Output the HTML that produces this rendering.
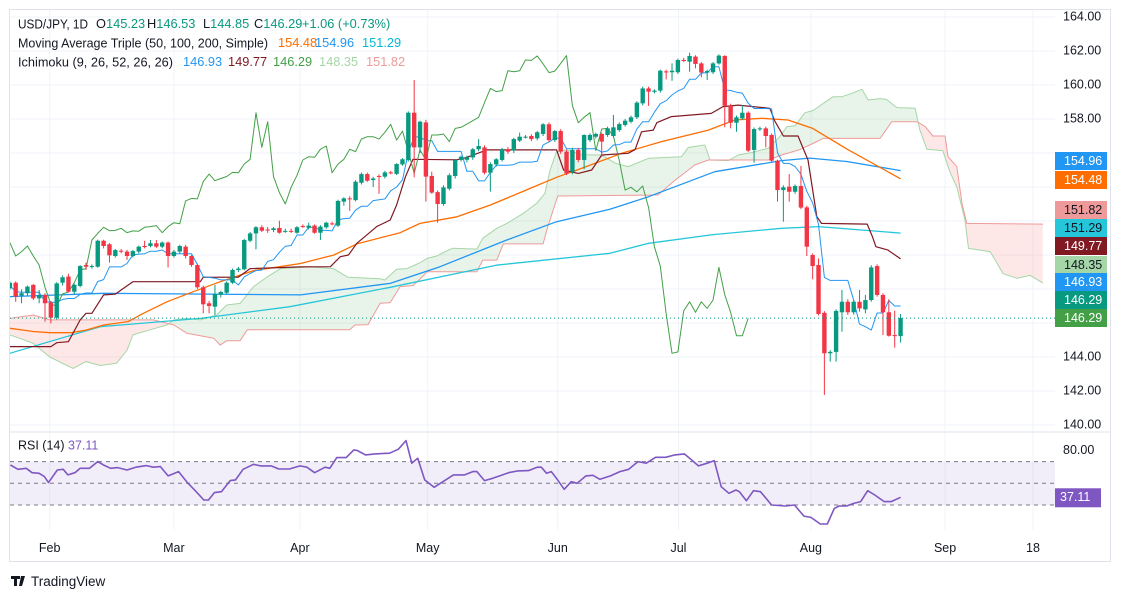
<!DOCTYPE html>
<html><head><meta charset="utf-8">
<style>
html,body{margin:0;padding:0;background:#fff;}
svg{display:block;font-family:"Liberation Sans",Arial,sans-serif;}
</style></head>
<body>
<svg id="chart" width="1121" height="599" viewBox="0 0 1121 599" xmlns="http://www.w3.org/2000/svg">
<defs>
<clipPath id="mainClip"><rect x="10" y="10" width="1045" height="421"/></clipPath>
<clipPath id="rsiClip"><rect x="10" y="433" width="1045" height="96"/></clipPath>
</defs>
<rect x="0" y="0" width="1121" height="599" fill="#fff"/>
<g id="grid"></g>
<g id="main" clip-path="url(#mainClip)"></g>
<g id="rsi"></g>
<g id="axis"></g>
<line x1="9.5" y1="432" x2="1110" y2="432" stroke="#e0e3eb"/>
<rect x="9.5" y="9.5" width="1101" height="552" fill="none" stroke="#e0e3eb"/>

<g font-size="12.8" dominant-baseline="middle">
<text x="18" y="25" fill="#131722" textLength="70" lengthAdjust="spacingAndGlyphs">USD/JPY, 1D</text>
<text y="25"><tspan x="96" fill="#131722">O</tspan><tspan fill="#089981">145.23</tspan><tspan x="147" fill="#131722">H</tspan><tspan fill="#089981">146.53</tspan><tspan x="203" fill="#131722">L</tspan><tspan fill="#089981">144.85</tspan><tspan x="254" fill="#131722">C</tspan><tspan fill="#089981">146.29</tspan><tspan x="302" fill="#089981">+1.06 (+0.73%)</tspan></text>
<text x="18" y="44" fill="#131722" textLength="250" lengthAdjust="spacingAndGlyphs">Moving Average Triple (50, 100, 200, Simple)</text>
<text y="44"><tspan x="278" fill="#FF6D00">154.48</tspan><tspan x="315" fill="#2196F3">154.96</tspan><tspan x="362" fill="#00BCD4">151.29</tspan></text>
<text x="18" y="63" fill="#131722" textLength="155" lengthAdjust="spacingAndGlyphs">Ichimoku (9, 26, 52, 26, 26)</text>
<text y="63"><tspan x="183" fill="#2196F3">146.93</tspan><tspan x="228" fill="#801922">149.77</tspan><tspan x="273" fill="#43A047">146.29</tspan><tspan x="319" fill="#A5D6A7">148.35</tspan><tspan x="366" fill="#EF9A9A">151.82</tspan></text>
<text x="18" y="446" fill="#131722" font-size="12.5">RSI (14)</text>
<text x="68" y="446" fill="#7E57C2" font-size="12.5">37.11</text>
</g>

<g id="xaxis" font-size="12.5" fill="#131722" text-anchor="middle"></g>

<g>
<path d="M11 576 h9 v3 h-3 v7 h-3 v-7 h-3z M21 576 h4 l-3 10 h-3z" fill="#131722"/>
<text x="31" y="586" font-size="13.5" fill="#131722">TradingView</text>
</g>
</svg>

<script>
// ---------- data ----------
const firstIdx = -6;
const opens=[148.04,148.37,147.61,147.75,148.24,147.45,147.65,147.2,146.31,148.37,148.73,147.84,148.18,149.41,149.3,149.31,150.84,150.63,149.94,150.25,150.2,149.94,150.2,150.53,150.53,150.69,150.49,150.73,149.94,150.2,150.49,149.94,149.41,148.1,147.16,146.96,147.67,147.78,148.37,149.12,149.16,150.84,151.27,151.63,151.5,151.47,151.59,151.4,151.42,151.31,151.7,151.6,151.73,151.31,151.63,151.86,151.73,153.14,153.33,153.23,154.25,154.76,154.41,154.65,154.61,154.86,154.77,155.33,155.59,158.37,156.33,157.8,154.65,153.7,153.0,153.9,154.65,155.59,155.6,155.74,156.22,156.33,154.84,155.33,155.59,156.22,156.14,156.73,156.95,157.0,156.86,157.12,157.69,156.76,157.29,156.08,154.9,156.18,155.59,156.76,156.96,157.12,157.06,157.0,157.35,157.65,157.84,158.1,158.92,159.8,159.6,159.67,160.8,160.75,160.75,161.47,161.37,161.67,161.27,160.73,160.75,161.27,161.71,158.78,157.78,158.04,158.37,156.18,157.4,157.45,157.06,155.55,153.82,154.02,153.72,154.06,152.8,150.0,149.41,146.6,144.22,144.3,146.63,147.25,146.63,147.25,146.8,147.35,149.35,147.65,146.63,145.29,145.23];
const highs=[148.45,148.45,147.98,148.2,148.3,147.94,147.75,147.3,148.4,148.8,148.9,148.3,149.4,149.55,149.45,150.9,150.9,150.7,150.35,150.35,150.3,150.3,150.55,150.84,150.88,150.88,150.8,150.8,150.3,150.6,150.6,150.0,149.5,148.2,147.3,148.24,147.9,148.45,149.2,149.3,150.95,151.35,151.7,151.75,151.65,151.65,152.02,151.55,151.55,151.7,151.8,151.9,151.8,151.75,151.95,151.95,153.25,153.4,153.45,154.4,154.85,154.85,154.6,154.75,154.95,154.95,155.4,155.7,158.45,160.29,157.9,157.95,154.9,153.8,154.1,154.8,155.65,155.85,155.85,156.3,156.82,156.45,155.45,155.7,156.3,156.35,156.9,157.2,157.05,157.1,157.3,157.75,157.8,157.35,157.4,156.2,156.3,156.3,157.1,157.15,157.2,157.2,157.55,158.24,157.8,158.0,158.2,159.05,159.9,159.9,159.75,160.9,160.9,161.27,161.55,161.6,161.9,161.75,161.35,160.9,161.35,161.8,161.75,158.9,158.2,158.82,158.45,157.5,157.55,157.55,157.15,155.6,154.1,154.76,154.15,155.24,152.9,150.1,149.8,146.7,144.4,146.8,147.94,147.4,147.35,147.94,147.65,149.4,149.45,147.75,147.4,146.73,146.53];
const lows=[147.95,147.25,147.16,147.6,147.35,147.16,146.08,145.98,146.2,148.2,147.8,147.7,148.1,149.12,149.2,149.25,150.39,149.55,149.85,150.1,149.71,149.85,150.1,150.39,150.45,150.4,150.4,149.27,149.85,150.1,149.8,149.31,148.0,146.57,146.57,146.47,147.5,147.7,148.3,149.0,149.1,150.75,150.33,151.35,151.3,151.35,151.25,151.3,151.3,151.25,151.6,151.5,151.25,150.88,151.55,151.75,151.65,152.9,152.6,153.15,154.15,154.3,154.0,153.6,154.5,154.75,154.7,155.25,155.5,154.57,156.0,153.14,153.6,151.9,152.9,153.8,154.5,155.5,155.45,155.6,156.1,154.75,153.73,155.2,155.5,155.95,156.0,156.65,156.85,156.7,156.75,157.0,156.65,156.65,155.95,154.7,154.75,155.45,155.04,156.65,156.85,155.78,156.95,156.9,157.25,157.55,157.75,158.0,158.8,158.77,159.5,159.55,160.33,160.25,160.65,161.35,160.78,160.98,160.45,160.29,160.65,161.2,157.51,157.45,157.25,157.95,156.05,155.43,157.3,156.33,155.45,153.14,151.96,153.14,153.6,152.7,149.94,148.57,146.45,141.77,143.73,143.73,145.49,146.47,146.5,146.67,146.57,147.25,147.55,145.29,145.2,144.55,144.85];
const closes=[148.37,147.55,147.75,148.14,147.45,147.65,147.16,146.31,148.33,148.69,147.84,148.25,149.35,149.31,149.35,150.84,150.53,149.98,150.29,150.2,149.94,150.23,150.49,150.49,150.69,150.49,150.73,149.94,150.2,150.53,149.94,149.41,148.1,147.1,147.0,147.71,147.82,148.37,149.12,149.2,150.88,151.27,151.63,151.43,151.45,151.57,151.31,151.42,151.4,151.63,151.67,151.73,151.31,151.67,151.9,151.84,153.18,153.33,153.3,154.31,154.76,154.37,154.5,154.62,154.86,154.84,155.35,155.63,158.37,156.33,157.84,154.61,153.67,153.0,153.98,154.69,155.59,155.78,155.75,156.22,156.41,154.84,155.35,155.63,156.22,156.08,156.82,156.96,156.96,156.82,157.22,157.69,156.76,157.29,156.08,154.8,156.18,155.59,157.06,157.06,157.12,156.67,157.45,157.51,157.7,157.9,158.1,158.96,159.8,159.61,159.67,160.84,160.78,160.84,161.47,161.45,161.71,161.24,160.73,160.82,161.27,161.73,158.78,157.78,158.1,158.37,156.14,157.41,157.45,157.0,155.55,153.82,153.98,153.72,154.06,152.79,150.49,149.35,146.53,144.22,144.3,146.71,147.25,146.63,147.25,146.86,147.35,149.27,147.65,146.63,145.25,145.25,146.29];

const sma50Idx=[-6,-2,0.8,4.5,7,10,14.2,16.8,20.8,25.3,29.9,35.6,43.6,49.3,53.2,60.6,64,70.3,76,82.8,87.3,90.8,98.4,105.2,113.2,117.7,122.3,126.8,131,137,146];
const sma50Val=[145.69,145.5,145.43,145.43,145.58,145.88,146.08,146.57,147.25,147.84,148.43,149.08,149.5,150.0,150.65,151.31,151.86,152.25,152.94,153.92,154.57,155.0,155.98,156.67,157.35,157.94,158.04,157.94,157.45,156.2,154.48];
const sma100Idx=[-6,10,43.6,58.9,67.4,78.8,87.3,96.4,103,114.3,125.7,130.5,136.8,145.4,146];
const sma100Val=[147.55,147.75,147.65,148.33,149.31,150.88,151.96,152.69,153.43,154.9,155.55,155.7,155.5,155.0,154.96];
const sma200Idx=[-6,9.4,26.5,41.8,58.9,77,96.4,103,114,125.7,132,146];
const sma200Val=[144.22,145.78,146.27,146.96,148.1,149.4,150.1,150.69,151.2,151.57,151.67,151.29];
const kijunIdx=[-6,1,2,4,6,7,8,10,12,15,26.5,27,33,35,43.6,48.7,50.4,51.8,53.2,55,56.6,58.9,60,61.5,62.8,70.3,72,75.4,87.3,88.5,91,93.3,95,99.5,100.7,101.8,103.8,104.4,106.9,113.7,115.7,118.3,123.7,124.5,126,128.5,130.2,131,131.7,132.5,140.3,141.2,141.8,143.8,146];
const kijunVal=[144.61,144.61,144.84,144.9,146.18,146.57,146.57,147.65,147.7,148.43,148.43,148.69,148.7,149.2,149.3,149.31,149.9,150.0,150.69,151.2,151.67,152.06,152.94,154.6,155.63,155.6,155.75,156.18,156.18,155.0,154.8,155.0,155.88,155.98,156.2,157.25,157.35,157.78,158.14,158.33,158.73,158.82,158.63,157.9,157.0,157.0,155.59,153.82,152.26,151.86,151.82,151.08,150.49,150.3,149.77];
const spanAIdx=[-6,-4.3,-2,0.8,4.8,7,9.4,12.2,14,15,17.9,20.8,22,24.2,26.5,29.3,31,33.3,35.6,38,40.2,45.2,49.2,51.7,57.2,58,60,61.8,63.7,65.2,66.9,68.3,69.6,73.7,74.7,77.1,78.8,81.6,83.9,85.3,86.2,87.3,89,91.6,95,97.3,99.5,103,108.6,109.8,112.6,113.5,116.6,118.3,120,123.4,125.4,126.6,128,129.7,131.1,132.8,134.5,136,137.7,139.4,140.5,142.5,143.6,145.4,148.5,149.3,150.5,153.2,154.4,155.6,157,157.6,161.3,163.5,165.9,168.1,170.3];
const spanAVal=[145.3,145.1,144.8,144.0,143.33,143.73,143.5,143.63,144.4,145.3,145.6,145.88,146.18,146.27,146.18,146.47,147.06,147.15,148.14,148.73,149.2,149.31,149.2,148.69,148.6,148.53,149.16,149.2,149.5,149.8,149.95,150.2,150.4,150.35,150.98,151.57,151.86,152.45,153.04,153.63,155.0,156.08,156.18,155.9,155.88,155.4,155.2,155.69,155.78,156.33,156.47,155.59,155.55,155.88,155.98,156.27,156.96,157.55,157.6,158.37,158.5,158.92,159.31,159.31,159.51,159.75,159.12,159.2,159.15,158.67,158.63,157.35,156.22,156.14,154.9,154.0,152.06,150.39,150.2,148.9,148.63,148.8,148.35];
const spanBIdx=[-6,-2,0.8,18.5,22,24.2,28.8,29.9,31,33.3,34.5,52,52.9,55.1,57.2,58.9,60.6,62.8,64.5,65.2,73.7,74.7,77.1,78.2,85,85.8,87.5,104.6,107.5,109.8,110.9,113.2,123.4,125.7,128.8,130.5,132.8,142.5,144.5,148.8,150.2,151.5,153.6,154.1,155.6,156.5,157.3,170.3];
const spanBVal=[146.27,146.47,146.18,146.18,145.88,145.4,145.1,144.7,144.96,144.96,145.6,145.6,145.88,145.9,147.16,147.2,148.14,148.2,148.76,149.02,149.02,149.7,149.7,150.65,150.65,151.67,153.47,153.53,154.4,155.0,155.3,155.59,155.59,155.88,156.2,156.47,156.86,156.86,157.84,157.84,157.55,157.0,157.0,155.78,155.2,153.0,151.86,151.82];
const rsiIdx=[-5.9,-4.6,-3.2,-2.2,-1.0,-0.1,0.6,2.1,3.1,3.9,5.1,6.0,7.6,9.0,10.0,11.2,12.4,14.0,15.5,17.3,18.5,19.7,21.0,22.8,24.3,25.8,27.1,27.9,28.9,30.1,31.6,32.5,33.8,35.6,36.8,38.6,39.9,41.7,43.5,44.7,46.0,47.8,48.6,49.8,51.4,52.7,53.3,54.7,56.3,58.8,60.3,61.6,62.6,63.6,64.8,66.4,67.9,69.7,71.6,73.0,73.7,75.0,76.4,77.6,79.1,80.7,82.5,84.0,84.7,85.6,86.4,87.4,88.6,89.8,90.8,92.3,93.5,94.7,96.5,98.1,99.6,101.2,102.6,104.2,105.9,107.5,109.1,110.0,111.5,113.0,114.2,115.4,116.7,117.9,118.5,119.7,120.9,122.1,124.0,126.4,127.9,129.5,130.7,132.3,133.5,134.7,135.5,136.8,138.0,139.2,140.4,141.6,143.2,144.4,146];
const rsiVal=[66.9,62.9,63.8,59.8,59.2,56.2,50.6,62.3,62.9,57.7,59.8,63.8,63.8,70.0,66.9,63.8,64.5,62.3,64.8,66.3,64.8,65.4,56.8,60.8,50.6,42.3,34.6,34.6,41.4,42.3,52.5,53.1,62.9,67.5,66.0,66.0,63.2,63.2,66.0,64.8,59.8,64.8,63.8,73.7,73.7,80.8,80.2,76.2,77.1,77.7,81.4,89.4,68.5,73.1,53.1,46.3,51.5,57.7,57.7,60.8,60.8,52.5,54.6,56.8,59.8,61.4,61.7,64.8,64.8,59.2,60.8,53.7,44.5,51.5,50.0,56.8,57.4,53.7,56.8,60.8,62.9,70.0,68.5,74.0,74.0,76.2,77.1,73.1,66.0,68.5,70.9,46.9,40.8,43.8,42.3,34.0,43.2,42.3,30.0,29.1,30.0,19.8,18.6,12.5,12.5,26.9,29.1,29.1,31.5,33.1,43.2,39.2,33.1,33.1,37.11];
const priceTicks=["164.00","162.00","160.00","158.00","144.00","142.00","140.00"];
const monthLabels=["Feb","Mar","Apr","May","Jun","Jul","Aug","Sep","18"];
const monthIdx=[0.8,22,43.5,65.3,87.5,108.1,130.7,153.6,168.6];
const tagValues=["154.96","154.48","151.82","151.29","149.77","148.35","146.93","146.29","146.29"];

// ---------- scales ----------
const NS="http://www.w3.org/2000/svg";
function X(i){return 45+i*5.86;}
function Y(p){return 17+(164-p)*17;}
function RY(v){return 483.3-(v-50)*1.085;}
function mk(tag,attrs,parent){const e=document.createElementNS(NS,tag);for(const k in attrs)e.setAttribute(k,attrs[k]);parent.appendChild(e);return e;}
function lerp(ix,vals,t){if(t<=ix[0])return vals[0];const n=ix.length;if(t>=ix[n-1])return vals[n-1];for(let k=1;k<n;k++){if(t<=ix[k]){const f=(t-ix[k-1])/(ix[k]-ix[k-1]);return vals[k-1]+f*(vals[k]-vals[k-1]);}}return vals[n-1];}
function pathOf(ix,vals,ys){return ix.map((t,k)=>(k?"L":"M")+X(t).toFixed(1)+" "+ys(vals[k]).toFixed(1)).join(" ");}

const grid=document.getElementById('grid'), main=document.getElementById('main'), rsiG=document.getElementById('rsi'), axis=document.getElementById('axis'), xaxis=document.getElementById('xaxis');

for(let p=140;p<=164;p+=2){
  const l=mk('line',{x1:10,x2:1055,y1:Y(p),y2:Y(p),stroke:'#f0f3fa','stroke-width':1},grid);
  
  
}
monthIdx.forEach((t,k)=>{
  const l=mk('line',{x1:X(t),x2:X(t),y1:10,y2:530,stroke:'#f0f3fa','stroke-width':1},grid);
  
  
  const tx=mk('text',{x:X(t),y:552},xaxis);
  tx.textContent=monthLabels[k];
  
  
});

(function(){
  const start=-6,end=170.3,step=0.25;let run=[],sign=0;
  function flush(){
    if(run.length<2)return;
    const top=run.map(q=>X(q[0]).toFixed(1)+","+Y(q[1]).toFixed(1));
    const bot=run.slice().reverse().map(q=>X(q[0]).toFixed(1)+","+Y(q[2]).toFixed(1));
    const pg=mk('polygon',{points:top.concat(bot).join(" "),fill:sign>0?'rgba(67,160,71,0.12)':'rgba(244,67,54,0.12)'},main);
    
    
  }
  for(let t=start;t<=end+1e-6;t+=step){
    const a=lerp(spanAIdx,spanAVal,t),b=lerp(spanBIdx,spanBVal,t);const s=a>=b?1:-1;
    if(sign!==0&&s!==sign){run.push([t,a,b]);flush();run=[[t,a,b]];}else run.push([t,a,b]);
    sign=s;
  }
  flush();
})();

function line(ix,vals,color,w,name){
  const p=mk('path',{d:pathOf(ix,vals,Y),fill:'none',stroke:color,'stroke-width':w,'stroke-linejoin':'round'},main);
  
  
}
line(spanAIdx,spanAVal,'#A5D6A7',1,'senkou-span-a');
line(spanBIdx,spanBVal,'#EF9A9A',1,'senkou-span-b');
line(sma200Idx,sma200Val,'#26C6DA',1.3,'sma-200');
line(sma100Idx,sma100Val,'#2196F3',1.3,'sma-100');
line(sma50Idx,sma50Val,'#FF6D00',1.3,'sma-50');
line(kijunIdx,kijunVal,'#801922',1.2,'kijun-sen');

const tIx=[],tV=[];
for(let k=0;k<closes.length;k++){let hi=-1e9,lo=1e9;for(let j=Math.max(0,k-8);j<=k;j++){hi=Math.max(hi,highs[j]);lo=Math.min(lo,lows[j]);}tIx.push(k+firstIdx);tV.push((hi+lo)/2);}
line(tIx,tV,'#2196F3',1,'tenkan-sen');
line(closes.map((c,k)=>k+firstIdx-26),closes,'#43A047',1,'chikou-span');

for(let k=0;k<closes.length;k++){
  const t=k+firstIdx,o=opens[k],c=closes[k],up=c>=o,col=up?'#089981':'#F23645',cx=X(t);
  const w=mk('line',{x1:cx,x2:cx,y1:Y(highs[k]),y2:Y(lows[k]),stroke:col,'stroke-width':1},main);
  
  
  const yt=Y(Math.max(o,c)),yb=Y(Math.min(o,c));
  const r=mk('rect',{x:cx-2.2,y:yt,width:4.4,height:Math.max(1,yb-yt),fill:col},main);
  
  
}
const lp=mk('line',{x1:10,x2:1055,y1:Y(closes[closes.length-1]),y2:Y(closes[closes.length-1]),stroke:'#089981','stroke-width':1,'stroke-dasharray':'1 3'},main);



const band=mk('rect',{x:10,y:RY(70),width:1045,height:RY(30)-RY(70),fill:'rgba(126,87,194,0.1)'},rsiG);


[70,50,30].forEach(v=>{
  const l=mk('line',{x1:10,x2:1055,y1:RY(v),y2:RY(v),stroke:'#787B86','stroke-width':1,'stroke-dasharray':'4 4'},rsiG);
  
  
});
const rl=mk('path',{d:pathOf(rsiIdx,rsiVal,RY),fill:'none',stroke:'#7E57C2','stroke-width':1.6,'stroke-linejoin':'round','clip-path':'url(#rsiClip)'},rsiG);



const tickPrices=[164,162,160,158,144,142,140];
tickPrices.forEach((p,k)=>{
  const tx=mk('text',{x:1063,y:Y(p),'font-size':12.5,fill:'#131722','dominant-baseline':'middle'},axis);
  tx.textContent=priceTicks[k];
  
  
});
const r80=mk('text',{x:1063,y:RY(80),'font-size':12.5,fill:'#131722','dominant-baseline':'middle'},axis);
r80.textContent="80.00";



const tagTops=[152,171,201,219,237,256,273,291,309];
const tagBg=['#2196F3','#FF6D00','#EF9A9A','#26C6DA','#801922','#A5D6A7','#2196F3','#089981','#43A047'];
const tagFg=['#fff','#fff','#131722','#131722','#fff','#131722','#fff','#fff','#fff'];
tagValues.forEach((v,k)=>{
  const r=mk('rect',{x:1055,y:tagTops[k],width:52,height:18,fill:tagBg[k]},axis);
  
  
  const tx=mk('text',{x:1064,y:tagTops[k]+9.5,'font-size':12.5,fill:tagFg[k],'dominant-baseline':'middle'},axis);
  tx.textContent=v;
  
  
});
const rt=mk('rect',{x:1055,y:RY(37.11)-9,width:46,height:19,fill:'#7E57C2'},axis);


const rtt=mk('text',{x:1060,y:RY(37.11)+0.5,'font-size':12.5,fill:'#fff','dominant-baseline':'middle'},axis);
rtt.textContent=rsiVal[rsiVal.length-1].toFixed(2);


</script>
</body></html>
